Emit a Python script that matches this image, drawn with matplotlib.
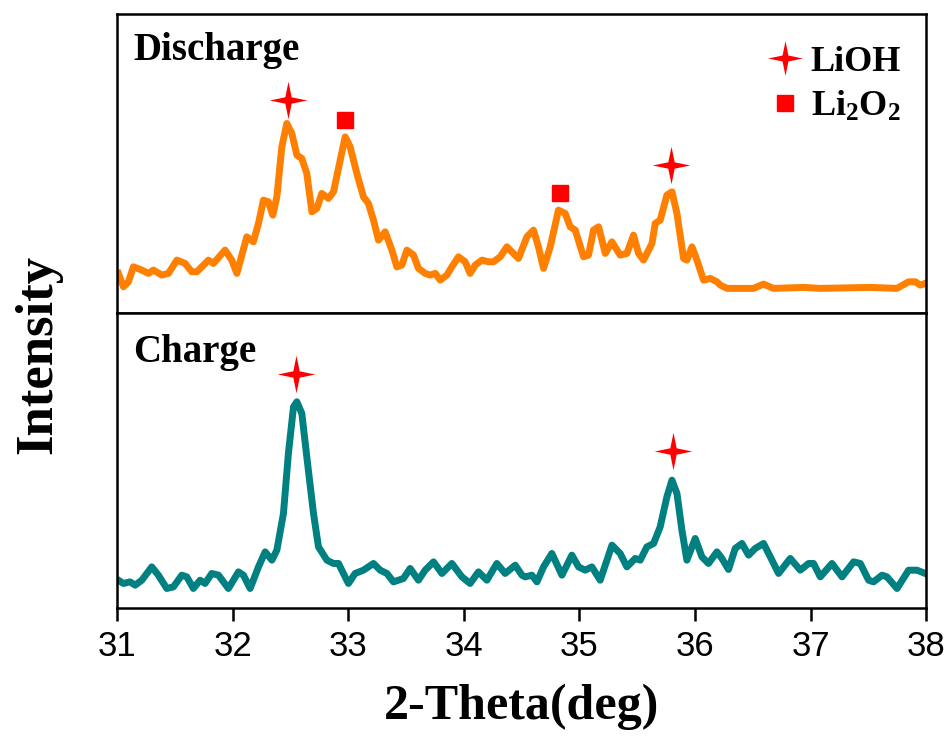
import numpy as np
import matplotlib.pyplot as plt
from matplotlib.path import Path
from matplotlib.lines import Line2D

# XRD data (2-theta in deg, intensity in a.u.)
theta_dis = [31.011, 31.055, 31.098, 31.141, 31.214, 31.271, 31.314, 31.387, 31.444, 31.517,
             31.588, 31.646, 31.690, 31.790, 31.833, 31.934, 31.992, 32.036, 32.122, 32.179,
             32.223, 32.266, 32.309, 32.347, 32.382, 32.425, 32.468, 32.512, 32.555, 32.598,
             32.641, 32.685, 32.728, 32.771, 32.828, 32.872, 32.930, 32.973, 33.016, 33.074,
             33.131, 33.174, 33.218, 33.261, 33.319, 33.377, 33.420, 33.463, 33.507, 33.564,
             33.607, 33.665, 33.708, 33.752, 33.795, 33.853, 33.896, 33.953, 34.011, 34.054,
             34.098, 34.156, 34.213, 34.256, 34.314, 34.372, 34.415, 34.472, 34.545, 34.602,
             34.645, 34.689, 34.747, 34.818, 34.876, 34.920, 34.963, 35.035, 35.078, 35.121,
             35.165, 35.223, 35.280, 35.352, 35.410, 35.467, 35.511, 35.554, 35.627, 35.655,
             35.698, 35.756, 35.800, 35.843, 35.900, 35.929, 35.973, 36.016, 36.073, 36.131,
             36.189, 36.218, 36.276, 36.506, 36.592, 36.679, 36.938, 37.083, 37.516, 37.746,
             37.847, 37.905, 37.948, 37.991]
int_dis = [39.7, 26.3, 31.3, 46.3, 43, 39.7, 43, 38, 39.7, 53,
           49.7, 41.3, 41.3, 53, 49.7, 63, 53, 39.7, 76.3, 71.3,
           89.7, 113, 111.3, 98, 116.3, 166.3, 189.7, 179.7, 158, 154.7,
           139.7, 101.3, 104.7, 119.7, 114.7, 121.3, 153, 176.3, 166.3, 139.7,
           116.3, 109.7, 93, 73, 81.3, 63, 46.3, 48, 63, 58,
           44.7, 39.7, 38, 39.7, 33, 38, 46.3, 56.3, 51.3, 39.7,
           48, 53, 51.3, 51.3, 56.3, 66.3, 61.3, 54.7, 76.3, 83,
           66.3, 44.7, 66.3, 103, 99.7, 86.3, 83, 56.3, 58, 83,
           86.3, 59.7, 71.3, 58, 59.7, 78, 59.7, 53, 69.7, 89.7,
           93, 118, 121.3, 99.7, 54.7, 53, 66.3, 53, 33, 34.7,
           31.3, 28, 24.7, 24.7, 29, 24.7, 25.7, 24.7, 25.7, 24.7,
           31.3, 31.3, 28, 29.7]

theta_chg = [31.011, 31.055, 31.112, 31.156, 31.214, 31.300, 31.357, 31.430, 31.487, 31.560,
             31.603, 31.660, 31.718, 31.761, 31.819, 31.877, 31.963, 32.050, 32.093, 32.151,
             32.223, 32.281, 32.339, 32.382, 32.439, 32.482, 32.526, 32.555, 32.598, 32.641,
             32.699, 32.742, 32.815, 32.872, 32.915, 32.958, 33.001, 33.059, 33.131, 33.218,
             33.276, 33.334, 33.391, 33.477, 33.535, 33.607, 33.665, 33.737, 33.810, 33.896,
             33.983, 34.054, 34.126, 34.199, 34.285, 34.357, 34.444, 34.502, 34.530, 34.588,
             34.632, 34.689, 34.761, 34.848, 34.934, 34.992, 35.049, 35.107, 35.179, 35.281,
             35.352, 35.410, 35.482, 35.525, 35.583, 35.641, 35.698, 35.756, 35.800, 35.843,
             35.886, 35.929, 35.973, 36.001, 36.059, 36.116, 36.189, 36.232, 36.289, 36.347,
             36.405, 36.463, 36.520, 36.592, 36.665, 36.722, 36.823, 36.910, 36.982, 37.025,
             37.083, 37.184, 37.271, 37.371, 37.429, 37.501, 37.544, 37.617, 37.660, 37.747,
             37.847, 37.920, 37.991]
int_chg = [28, 24.7, 26.3, 23, 28, 41.3, 33, 19.7, 21.3, 33,
           31.3, 19.7, 28, 24.7, 34.7, 33, 19.7, 36.3, 33, 19.7,
           41.3, 56.3, 48, 58, 94.7, 154.7, 201.3, 206.3, 194.7, 151.3,
           94.7, 61.3, 48, 44.7, 44.7, 34.7, 24.7, 34.7, 38, 44.7,
           38, 34.7, 26.3, 29.7, 39.7, 28, 38, 46.3, 34.7, 44.7,
           31.3, 24.7, 36.3, 28, 44.7, 34.7, 43, 33, 31.3, 33,
           26.3, 41.3, 54.7, 33, 53, 41.3, 38, 41.3, 28, 63,
           54.7, 41.3, 49.7, 48, 61.3, 64.7, 81.3, 111.3, 128, 114.7,
           78, 48, 61.3, 69.7, 51.3, 44.7, 56.3, 49.7, 38.7, 59.7,
           64.7, 53, 59.7, 64.7, 48, 34.7, 49.7, 38, 44.7, 44.7,
           31.3, 44.7, 31.3, 46.3, 44.7, 28, 26.3, 33, 31.3, 19.7,
           38, 38, 34.7]

# peak markers
lioh_dis_x = [32.48, 35.79]
lioh_dis_y = [213, 148]
li2o2_dis_x = [32.97, 34.83]
li2o2_dis_y = [193, 120]
lioh_chg_x = [32.55, 35.81]
lioh_chg_y = [234, 157]

xticks = [31, 32, 33, 34, 35, 36, 37, 38]

plt.rcParams['mathtext.fontset'] = 'custom'
plt.rcParams['mathtext.rm'] = 'Liberation Serif:bold'
plt.rcParams['mathtext.default'] = 'rm'

serif = dict(family='Liberation Serif', weight='bold')

# 4-point star marker
k = 0.17
star = Path([(0, 1), (k, k), (1, 0), (k, -k), (0, -1), (-k, -k), (-1, 0), (-k, k), (0, 1)],
            [Path.MOVETO] + [Path.LINETO] * 7 + [Path.CLOSEPOLY])

orange = '#FF8000'
teal = '#008080'
red = '#FF0000'

fig = plt.figure(figsize=(9.52, 7.49), dpi=100)
ax1 = fig.add_axes([0.123, 0.582, 0.850, 0.399])
ax2 = fig.add_axes([0.123, 0.188, 0.850, 0.394])

ax1.plot(theta_dis, int_dis, color=orange, lw=5, solid_joinstyle='round')
ax1.plot(lioh_dis_x, lioh_dis_y, ls='none', marker=star, ms=27, color=red, mew=0)
ax1.plot(li2o2_dis_x, li2o2_dis_y, ls='none', marker='s', ms=12, color=red, mew=1,
         mec=red)

ax2.plot(theta_chg, int_chg, color=teal, lw=5, solid_joinstyle='round')
ax2.plot(lioh_chg_x, lioh_chg_y, ls='none', marker=star, ms=27, color=red, mew=0)

ax1.set_ylim(0, 299)
ax2.set_ylim(0, 295)
for ax in (ax1, ax2):
    ax.set_xlim(31, 38)
    ax.set_yticks([])
    for s in ax.spines.values():
        s.set_linewidth(1.8)
ax1.tick_params(axis='x', bottom=False, labelbottom=False)
ax2.set_xticks(xticks)
ax2.tick_params(axis='x', direction='out', length=9, width=1.8, pad=7)
for lab in ax2.get_xticklabels():
    lab.set_fontfamily(['Liberation Sans Narrow', 'Liberation Sans'])
    lab.set_fontsize(25)

ax1.text(0.02, 0.94, 'Discharge', transform=ax1.transAxes, ha='left', va='top',
         fontsize=28, **serif)
ax2.text(0.02, 0.93, 'Charge', transform=ax2.transAxes, ha='left', va='top',
         fontsize=28, **serif)

handles = [Line2D([], [], ls='none', marker=star, ms=25, color=red, mew=0),
           Line2D([], [], ls='none', marker='s', ms=12, color=red)]
leg = ax1.legend(handles, ['LiOH', 'Li$_2$O$_2$'], loc='upper right',
                 bbox_to_anchor=(1.0, 0.98), frameon=False, handlelength=1.0,
                 handletextpad=0.2, labelspacing=0.3, borderaxespad=0.3,
                 prop=dict(family='Liberation Serif', weight='bold', size=26))

fig.text(0.04, 0.527, 'Intensity', rotation=90, ha='center', va='center',
         fontsize=38, **serif)
fig.text(0.548, 0.056, '2-Theta(deg)', ha='center', va='center', fontsize=36, **serif)

fig.savefig('out.png', dpi=100)
